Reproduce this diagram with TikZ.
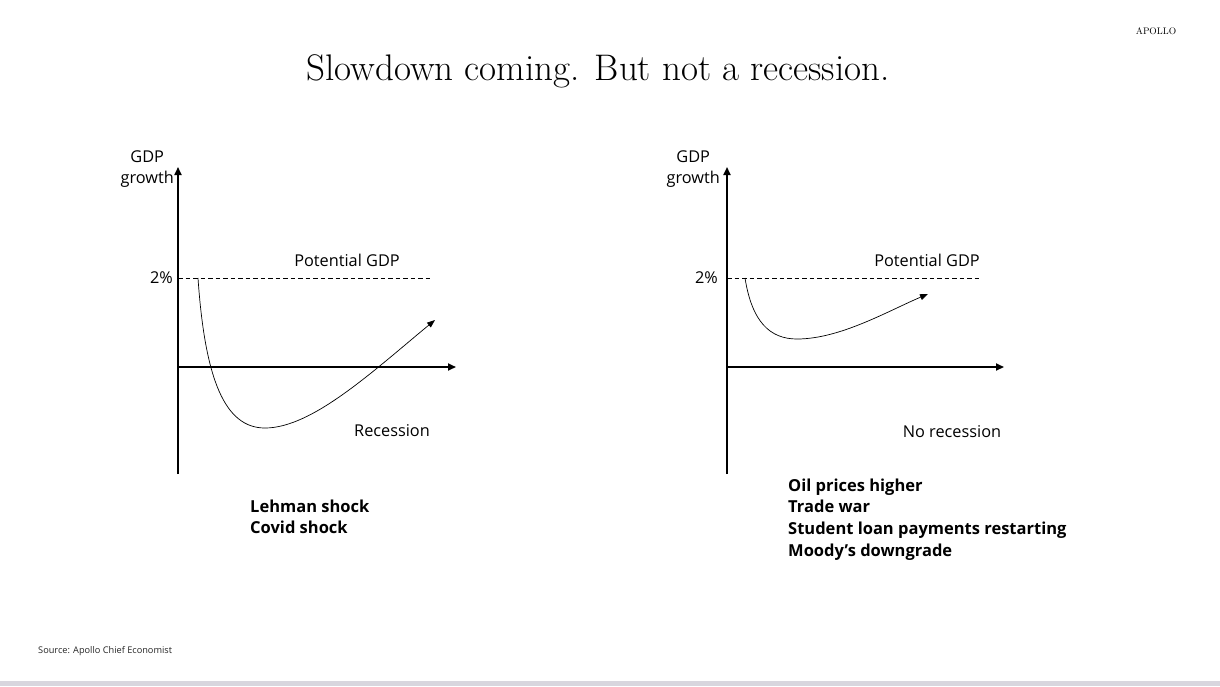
\documentclass[tikz,border=0pt]{standalone}
\usepackage{fontspec}
\newfontfamily\uif{Open Sans}
\usetikzlibrary{arrows.meta}
\begin{document}
\begin{tikzpicture}[x=1pt,y=-1pt,
  axis/.style={line width=1.8pt,-{Triangle[length=8pt,width=7pt]}},
  curve/.style={line width=0.7pt,-{Triangle[length=8pt,width=6pt]}},
  pot/.style={line width=0.9pt,dash pattern=on 4.5pt off 3pt},
  lbl/.style={font=\uif\fontsize{16.3}{21.5}\selectfont,inner sep=0pt},
  blist/.style={font=\uif\bfseries\fontsize{16.5}{20}\selectfont,inner sep=0pt,anchor=base west},
]
\useasboundingbox (0,0) rectangle (1220,686);
\fill[white] (0,0) rectangle (1220,686);
\fill[fill={rgb,255:red,216;green,214;blue,222}] (0,681) rectangle (1220,686);

% title and header
\node[font=\fontsize{37}{40}\selectfont,inner sep=0pt,anchor=base] (title) at (598,80) {Slowdown coming. But not a recession.};
\node[font=\addfontfeature{LetterSpacing=18}\fontsize{9.5}{10}\selectfont,inner sep=0pt,anchor=base] (apollo) at (1156,34) {APOLLO};
\node[font=\uif\fontsize{9.2}{10}\selectfont,inner sep=0pt,anchor=base west,text=black!85] (src) at (38,653) {Source: Apollo Chief Economist};

% left chart
\coordinate (L0) at (178,367);
\coordinate (Ltop) at (178,167);
\coordinate (Lbot) at (178,474);
\coordinate (Lright) at (456,367);
\coordinate (Lpa) at (178,278);
\coordinate (Lpb) at (433,278);
\draw[axis] (Lbot) -- (Ltop);
\draw[axis] (L0) -- (Lright);
\draw[pot] (Lpa) -- (Lpb);
\coordinate (Lc0) at (198,278);
\coordinate (Lcm) at (265,428);
\coordinate (Lc1) at (435,320);
\draw[curve] (Lc0) .. controls (205,380) and (225,428) .. (Lcm) .. controls (312,428) and (372,372) .. (Lc1);
\node[lbl,align=center,anchor=east] (Lgdp) at (174,169) {GDP\\growth};
\node[lbl,anchor=east] (L2) at (173,278) {2\%};
\node[lbl] (Lpot) at (347,260) {Potential GDP};
\node[lbl] (Lrec) at (392,431) {Recession};
\node[blist] (Lb1) at (250,512) {Lehman shock};
\node[blist] (Lb2) at (250,533) {Covid shock};

% right chart
\coordinate (R0) at (727,367);
\coordinate (Rtop) at (727,167);
\coordinate (Rbot) at (727,474);
\coordinate (Rright) at (1004,367);
\coordinate (Rpa) at (727,278);
\coordinate (Rpb) at (980,278);
\draw[axis] (Rbot) -- (Rtop);
\draw[axis] (R0) -- (Rright);
\draw[pot] (Rpa) -- (Rpb);
\coordinate (Rc0) at (745,278);
\coordinate (Rcm) at (797,339);
\coordinate (Rc1) at (928,294);
\draw[curve] (Rc0) .. controls (752,322) and (770,339) .. (Rcm) .. controls (840,339) and (888,311) .. (Rc1);
\node[lbl,align=center,anchor=east] (Rgdp) at (720,169) {GDP\\growth};
\node[lbl,anchor=east] (R2) at (718,278) {2\%};
\node[lbl] (Rpot) at (927,260) {Potential GDP};
\node[lbl] (Rrec) at (952,432) {No recession};
\node[blist] (Rb1) at (788,491) {Oil prices higher};
\node[blist] (Rb2) at (788,512.5) {Trade war};
\node[blist] (Rb3) at (788,534) {Student loan payments restarting};
\node[blist] (Rb4) at (788,556) {Moody’s downgrade};
\end{tikzpicture}
\end{document}
